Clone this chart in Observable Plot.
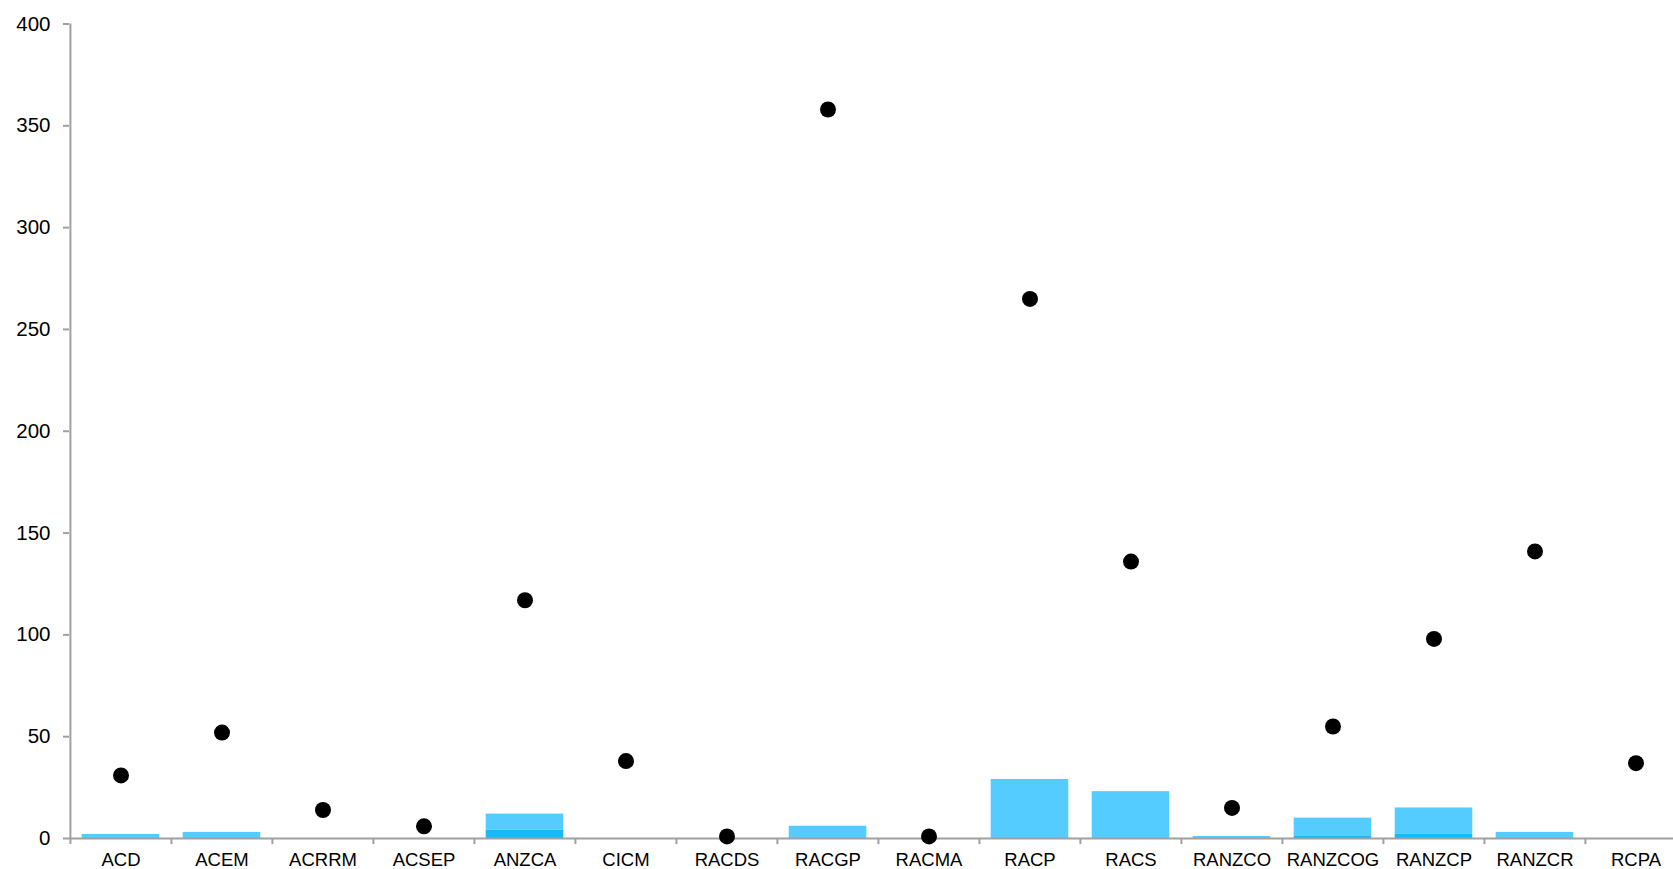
<!DOCTYPE html>
<html>
<head>
<meta charset="utf-8">
<script src="https://cdn.jsdelivr.net/npm/d3@7"></script>
<script src="https://cdn.jsdelivr.net/npm/@observablehq/plot@0.6"></script>
<style>
  html, body { margin: 0; padding: 0; background: #fff; overflow: hidden; }
  #chart svg { display: block; }
</style>
</head>
<body>
<div id="chart"></div>
<script>
const categories = ["ACD","ACEM","ACRRM","ACSEP","ANZCA","CICM","RACDS","RACGP","RACMA","RACP","RACS","RANZCO","RANZCOG","RANZCP","RANZCR","RCPA"];
const dotValues   = [31, 52, 14, 6, 117, 38, 1, 358, 1, 265, 136, 15, 55, 98, 141, 37];
const darkValues  = [0, 0, 0, 0, 4, 0, 0, 0, 0, 0, 0, 0, 1, 2, 0, 0];
const lightValues = [2, 3, 0, 0, 8, 0, 0, 6, 0, 29, 23, 1, 9, 13, 3, 0];
const yTicks = [0, 50, 100, 150, 200, 250, 300, 350, 400];
const seriesNames = ["dark", "light"];
const seriesColors = ["#14b9fe", "#55ccff"];

const W = 1673, H = 869;
const left = 69, right = 1687.7;
const step = (right - left) / categories.length;
const axisColor = "#a0a0a0";

const bars = [];
categories.forEach((c, i) => {
  bars.push({cat: c, series: "dark", value: darkValues[i]});
  bars.push({cat: c, series: "light", value: lightValues[i]});
});
const points = categories.map((c, i) => ({cat: c, value: dotValues[i]}));

const chart = Plot.plot({
  width: W,
  height: H,
  marginLeft: left,
  marginRight: 0,
  marginTop: 23.5,
  marginBottom: 31,
  style: {fontFamily: "'Liberation Sans', Arial, sans-serif", fontSize: "18.5px", color: "#000", background: "#fff"},
  x: {type: "band", domain: categories, range: [left, right], padding: 0, label: null},
  y: {domain: [0, 400], ticks: yTicks, label: null},
  color: {domain: seriesNames, range: seriesColors},
  marks: [
    Plot.barY(bars, {x: "cat", y: "value", fill: "series", insetLeft: 11.7, insetRight: 11.7}),
    Plot.ruleY([0], {stroke: axisColor, strokeWidth: 2}),
    Plot.ruleX([categories[0]], {dx: -step / 2, y1: -3, y2: 400, stroke: axisColor, strokeWidth: 2}),
    Plot.ruleX(categories.slice(1), {dx: -step / 2, y1: -3, y2: 0, stroke: axisColor, strokeWidth: 2}),
    Plot.axisY({ticks: yTicks, tickSize: 6, tickPadding: 13, label: null, fontSize: 20.5, stroke: axisColor, strokeWidth: 2, strokeOpacity: 1, fill: "#000"}),
    Plot.axisX({tickSize: 0, tickPadding: 14, label: null, fill: "#000"}),
    Plot.dot(points, {x: "cat", y: "value", r: 8, fill: "#000", stroke: "none"})
  ]
});
document.getElementById("chart").appendChild(chart);
</script>
</body>
</html>
